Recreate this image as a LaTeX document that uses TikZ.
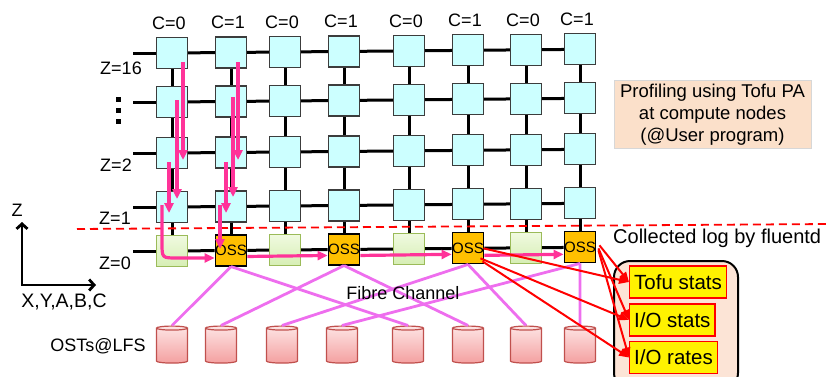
\documentclass[tikz,border=0pt]{standalone}
\usepackage{fontspec}
\setmainfont{Liberation Sans}
\usetikzlibrary{arrows.meta, positioning, calc, shapes.geometric}

\definecolor{nodecyan}{RGB}{204,255,255}
\definecolor{nodeedge}{RGB}{60,60,60}
\definecolor{ossorange}{RGB}{255,192,0}
\definecolor{greenedge}{RGB}{155,187,89}
\definecolor{greentop}{RGB}{240,250,224}
\definecolor{greenbot}{RGB}{214,238,180}
\definecolor{hoppink}{RGB}{255,51,153}
\definecolor{fcviolet}{RGB}{238,110,238}
\definecolor{ostedge}{RGB}{192,80,77}
\definecolor{osttop}{RGB}{253,228,228}
\definecolor{ostbot}{RGB}{244,160,160}
\definecolor{peach}{RGB}{251,224,202}
\definecolor{logpeach}{RGB}{252,228,214}

\begin{document}
\begin{tikzpicture}[x=1pt, y=-1pt,
    >={Triangle[length=10pt,width=9pt]},
    lbl/.style={inner sep=0pt, font=\fontsize{18}{21}\selectfont},
    cnode/.style={draw=nodeedge, line width=1.2pt, fill=nodecyan, minimum size=31pt, inner sep=0pt},
    gnode/.style={draw=greenedge, line width=1.2pt, top color=greentop, bottom color=greenbot, minimum size=31pt, inner sep=0pt},
    oss/.style={draw=black, line width=1.2pt, fill=ossorange, minimum size=31pt, inner sep=0pt, font=\fontsize{15}{17}\selectfont},
    link/.style={line width=3pt},
    hop/.style={->, color=hoppink, line width=3.2pt},
    fc/.style={color=fcviolet, line width=2.8pt},
    ost/.style={cylinder, shape border rotate=90, aspect=0.6, minimum width=31pt, minimum height=37pt, draw=ostedge, line width=1.2pt, top color=osttop, bottom color=ostbot},
    stat/.style={draw=red, line width=1.3pt, fill=yellow, anchor=west, inner xsep=4.5pt, minimum height=32pt, font=\fontsize{20.5}{24}\selectfont},
    logarrow/.style={-{Triangle[length=10pt,width=8pt]}, color=red, line width=2pt}
]
    \useasboundingbox (0,0) rectangle (830,376);
    \clip (0,0) rectangle (830,376);

    % compute nodes (Z=16 ... Z=1)
    \foreach \x [count=\i] in {172,231,285,344,409,468,526,580} {
        \foreach \y [count=\j] in {53,102,153,207}
            \node[cnode] (c\i-\j) at (\x, {\y-0.009*(\x-172)}) {};
    }
    % Z=0 row: plain nodes and OSS
    \foreach \x/\i in {172/1,285/3,409/5,526/7}
        \node[gnode] (b\i) at (\x, {251-0.009*(\x-172)}) {};
    \foreach \x/\i in {231/2,344/4,468/6,580/8}
        \node[oss] (b\i) at (\x, {251-0.009*(\x-172)}) {OSS};

    % links
    \foreach \j in {1,...,4} {
        \coordinate (w\j) at ($(c1-\j)+(-39,0)$);
        \draw[link] (w\j) -- (c1-\j);
        \foreach \i [count=\k from 2] in {1,...,7}
            \draw[link] (c\i-\j) -- (c\k-\j);
    }
    \coordinate (w0) at ($(b1)+(-39,0)$);
    \draw[link] (w0) -- (b1);
    \foreach \i [count=\k from 2] in {1,...,7}
        \draw[link] (b\i) -- (b\k);
    \foreach \i in {1,...,8} {
        \foreach \j [count=\k from 2] in {1,2,3}
            \draw[link] (c\i-\j) -- (c\i-\k);
        \draw[link] (c\i-4) -- (b\i);
    }

    % C labels
    \foreach \c [count=\i] in {0,1,0,1,0,1,0,1}
        \node[lbl, above=7pt of c\i-1, xshift=-3pt] (ctop\i) {C=\c};

    % Z labels
    \node[lbl] (z16) at (121,68) {Z=16};
    \node[lbl] (z2) at (116,165) {Z=2};
    \node[lbl] (z1) at (115,218) {Z=1};
    \node[lbl] (z0) at (115,263) {Z=0};
    \foreach \y in {99,110,121}
        \fill (115.5,{\y-2.5}) rectangle ++(5,5);

    % boundary compute / storage
    \coordinate (dl) at (77,229);
    \coordinate (dr) at (830,224);
    \draw[red, line width=1.8pt, dash pattern=on 8pt off 5pt] (dl) -- (dr);

    % axes
    \coordinate (o) at (22,285);
    \coordinate (zt) at (22,222);
    \coordinate (xt) at (96,285);
    \draw[{Straight Barb[length=5pt,width=11pt]}-{Straight Barb[length=5pt,width=11pt]}, line width=2.8pt] (zt) -- (o) -- (xt);
    \node[lbl] (zax) at (17,210) {Z};
    \node[lbl, font=\fontsize{19.5}{22}\selectfont] (xax) at (64,302) {X,Y,A,B,C};

    % Tofu PA traffic
    \draw[hop] (183,62) -- (183,160);
    \draw[hop] (177,100) -- (177,199);
    \draw[hop] (169,162) -- (169,213);
    \draw[hop] (162,205) -- (162,243) .. controls (162,258) .. (177,258) -- ([yshift=-7.5pt]b2.west);
    \draw[hop] (238,62) -- (238,160);
    \draw[hop] (233,97) -- (233,197);
    \draw[hop] (226,162) -- (226,213);
    \draw[hop] (220,205) -- (220,249);
    \draw[hop] ([yshift=-6pt]b2.east) -- ([yshift=-6pt]b4.west);
    \draw[hop] ([yshift=-6pt]b4.east) -- ([yshift=-6pt]b6.west);
    \draw[hop] ([yshift=-7pt]b6.east) -- ([yshift=-7pt]b8.west);

    % OSTs and fibre channel
    \foreach \x [count=\i] in {172,221,282,342,408,468,526,580}
        \node[ost] (t\i) at (\x,346.5) {};
    \foreach \s/\a/\b in {2/1/5,4/2/6,6/3/7,8/4/8} {
        \draw[fc] (b\s.south) -- (t\a.north);
        \draw[fc] (b\s.south) -- (t\b.north);
    }
    \node[lbl] (fibre) at (403,293) {Fibre Channel};
    \node[lbl] (osts) at (98,346) {OSTs@LFS};

    % profiling note
    \node[draw={rgb,255:red,215;green,215;blue,215}, line width=0.6pt, fill=peach, minimum width=197pt, minimum height=67pt, align=center, font=\fontsize{18.5}{22}\selectfont] (prof) at (712.5,114.5) {Profiling using Tofu PA\\at compute nodes\\(@User program)};

    % collected logs
    \node[lbl, anchor=west, font=\fontsize{20}{24}\selectfont] (coll) at (613,238) {Collected log by fluentd};
    \node[draw, line width=2pt, rounded corners=16pt, fill=logpeach, anchor=north west, minimum width=124pt, minimum height=128pt] (logs) at (613,260) {};
    \node[stat] (tofu) at (629,282) {Tofu stats};
    \node[stat] (iostat) at (629,320) {I/O stats};
    \node[stat] (iorate) at (629,357.5) {I/O rates};
    \draw[logarrow] ($(b6.east)+(-1,0)$) -- (tofu.west);
    \draw[logarrow] ($(b6.east)+(-4,10)$) -- (iostat.west);
    \draw[logarrow] ($(b6.east)+(-2,13)$) -- (iorate.west);
    \draw[logarrow] ($(b8.east)+(3,-2)$) -- (tofu.west);
    \draw[logarrow] ($(b8.east)+(2,1)$) -- (iostat.west);
    \draw[logarrow] ($(b8.east)+(2,3)$) -- (iorate.west);
\end{tikzpicture}
\end{document}
